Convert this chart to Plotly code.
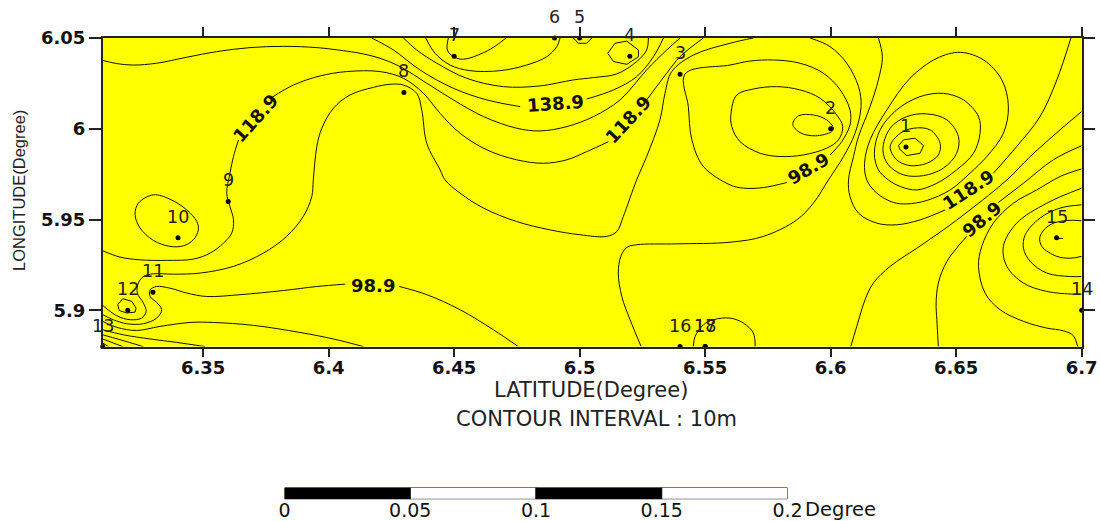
import plotly.graph_objects as go

# Contour lines: (latitude list, longitude list); None marks the gap for a label
c01_x = [6.31, 6.3169, 6.3249, 6.3355, 6.3461, 6.3528, 6.3581, 6.3614, 6.3621, 6.3607, 6.3594, 6.3607, 6.3621, 6.3641, None,
         6.3773, 6.3860, 6.3966, 6.4072, 6.4205, 6.4298, 6.4378, 6.4444, 6.4524, 6.4630, 6.4749, 6.4856, 6.4949, 6.5028, 6.5115, None,
         6.5267, 6.5347, 6.5400, 6.5493]
c01_y = [5.9328, 5.9293, 5.9278, 5.9275, 5.9282, 5.9315, 5.9370, 5.9425, 5.9498, 5.9572, 5.9645, 5.9755, 5.9847, 5.9939, None,
         6.0172, 6.0241, 6.0291, 6.0315, 6.0315, 6.0278, 6.0195, 6.0085, 5.9975, 5.9884, 5.9829, 5.9810, 5.9829, 5.9874, 5.9929, None,
         6.0159, 6.0306, 6.0397, 6.05]
c02_x = [6.31, 6.3156, 6.3222, 6.3315, 6.3435, 6.3554, 6.3687, 6.3820, 6.3953, 6.4059, 6.4125, 6.4205, 6.4285, 6.4391, 6.4497,
         6.4617, 6.4749, 6.4842, 6.4949, 6.5055, 6.5161, 6.5267, 6.5347, 6.5400]
c02_y = [6.0377, 6.0359, 6.0351, 6.0361, 6.0394, 6.0425, 6.0447, 6.0454, 6.0447, 6.0430, 6.0416, 6.0388, 6.0342, 6.0251, 6.0159,
         6.0067, 6.0003, 5.9988, 6.0012, 6.0067, 6.0159, 6.0324, 6.0434, 6.05]
c03_x = [6.4172, 6.4258, 6.4364, 6.4497, 6.4630, 6.4763, None, 6.5028, 6.5135, 6.5227, 6.5294, 6.5334]
c03_y = [6.05, 6.0434, 6.0324, 6.0223, 6.0159, 6.0122, None, 6.0164, 6.0214, 6.0287, 6.0397, 6.05]
c04_x = [6.4298, 6.4351, 6.4431, 6.4550, 6.4696, 6.4842, 6.4975, 6.5055, 6.5148, 6.5227, 6.5267, 6.5274]
c04_y = [6.05, 6.0434, 6.0361, 6.0278, 6.0232, 6.0236, 6.0269, 6.0282, 6.0302, 6.0370, 6.0434, 6.05]
c05_x = [6.4387, 6.4424, 6.4484, 6.4563, 6.4683, 6.4789, 6.4869, 6.4909, 6.4922]
c05_y = [6.05, 6.0416, 6.0351, 6.0320, 6.0320, 6.0351, 6.0397, 6.0452, 6.05]
c06_x = [6.4477, 6.4473, 6.4497, 6.4537, 6.4617, 6.4670, 6.4706]
c06_y = [6.05, 6.0434, 6.0397, 6.0383, 6.0419, 6.0461, 6.05]
c07_x = [6.5141, 6.5188, 6.5234, 6.5234, 6.5188, 6.5135, 6.5112, 6.5141]
c07_y = [6.0471, 6.0483, 6.0434, 6.0397, 6.0355, 6.0370, 6.0416, 6.0471]
c08_x = [6.4975, 6.4995, 6.5028, 6.5048]
c08_y = [6.05, 6.0471, 6.0471, 6.05]
c09_x = [6.31, 6.3156, 6.3209, 6.3255, 6.3273, 6.3262, 6.3238, 6.3242, 6.3262, 6.3302, 6.3382, 6.3488, 6.3621, 6.3740, 6.3833,
         6.3899, 6.3933, 6.3939, 6.3953, 6.3973, 6.4019, 6.4085, 6.4178, 6.4245, 6.4298, 6.4351, 6.4371, 6.4391, 6.4444, 6.4464,
         6.4524, 6.4617, 6.4749, 6.4882, 6.5002, 6.5108, 6.5148, 6.5174, 6.5227, 6.5267, 6.5320, 6.5340, 6.5367, 6.5453, 6.5599, 6.5692]
c09_y = [5.9027, 5.8970, 5.8948, 5.8957, 5.8994, 5.9040, 5.9095, 5.9150, 5.9186, 5.9201, 5.9199, 5.9205, 5.9242, 5.9315, 5.9407,
         5.9517, 5.9627, 5.9718, 5.9902, 6.0003, 6.0113, 6.0186, 6.0228, 6.0245, 6.0241, 6.0195, 6.0104, 5.9920, 5.9774, 5.9718,
         5.9645, 5.9563, 5.9489, 5.9443, 5.9416, 5.9407, 5.9434, 5.9517, 5.9718, 5.9847, 6.0049, 6.0195, 6.0315, 6.0406, 6.0471, 6.05]
c10_x = [6.5998, 6.6044, 6.6077, 6.6077, 6.6038, 6.5971, 6.5878, 6.5772, 6.5679, 6.5599, 6.5420, 6.5433, 6.5447, 6.5493, 6.5599,
         6.5652, 6.5732, 6.5825]
c10_y = [5.9856, 5.9929, 6.0021, 6.0104, 6.0214, 6.0306, 6.0361, 6.0379, 6.0373, 6.0351, 6.0302, 6.0122, 5.9939, 5.9792, 5.9691,
         5.9673, 5.9676, 5.9704]
c11_x = [6.5626, 6.5692, 6.5785, 6.5878, 6.5958, 6.6024, 6.6048, 6.6031, 6.5984, 6.5892, 6.5799, 6.5719, 6.5639, 6.5606, 6.5603, 6.5626]
c11_y = [6.0186, 6.0219, 6.0232, 6.0214, 6.0168, 6.0076, 6.0012, 5.9939, 5.9893, 5.9856, 5.9847, 5.9865, 5.9929, 6.0012, 6.0085, 6.0186]
c12_x = [6.5872, 6.5931, 6.5984, 6.6011, 6.6004, 6.5938, 6.5878, 6.5849, 6.5872]
c12_y = [6.0071, 6.0076, 6.0049, 6.0003, 5.9984, 5.9961, 5.9979, 6.0025, 6.0071]
c13_x = [6.5918, 6.5998, 6.6064, 6.6111, 6.6121, 6.6097, 6.6051, 6.5991, 6.5931, 6.5865, 6.5732, 6.5599, 6.5387, 6.5227, 6.5188,
         6.5164, 6.5154, 6.5168, 6.5201, 6.5245]
c13_y = [6.05, 6.0452, 6.0361, 6.0232, 6.0122, 5.9975, 5.9847, 5.9718, 5.9590, 5.9498, 5.9407, 5.9375, 5.9366, 5.9361, 5.9346,
         5.9297, 5.9205, 5.9076, 5.8948, 5.88]
c14_x = [6.6190, 6.6206, 6.6190, 6.6157, 6.6111, 6.6091, 6.6071, 6.6077, 6.6111, 6.6184, 6.6263, 6.6356, 6.6456, None,
         6.6648, 6.6741, 6.6834, 6.6901, 6.6957]
c14_y = [6.05, 6.0397, 6.0269, 6.0122, 5.9957, 5.9847, 5.9718, 5.9627, 5.9535, 5.9480, 5.9471, 5.9498, 5.9553, None,
         5.9755, 5.9902, 6.0067, 6.0269, 6.05]
c15_x = [6.6516, 6.6609, 6.6682, 6.6708, 6.6688, 6.6622, 6.6555, 6.6476, 6.6383, 6.6303, 6.6250, 6.6184, 6.6144, 6.6135, 6.6157,
         6.6224, 6.6316, 6.6423, 6.6516]
c15_y = [6.0421, 6.0379, 6.0269, 6.0122, 5.9975, 5.9847, 5.9755, 5.9663, 5.9605, 5.9586, 5.9594, 5.9645, 5.9718, 5.9810, 5.9939,
         6.0104, 6.0278, 6.0388, 6.0421]
c16_x = [6.6174, 6.6197, 6.6263, 6.6356, 6.6449, 6.6529, 6.6589, 6.6595, 6.6569, 6.6502, 6.6423, 6.6343, 6.6277, 6.6230, 6.6190, 6.6174]
c16_y = [5.9865, 5.9994, 6.0104, 6.0177, 6.0195, 6.0159, 6.0067, 5.9975, 5.9865, 5.9774, 5.9700, 5.9663, 5.9682, 5.9718, 5.9774, 5.9865]
c17_x = [6.6208, 6.6237, 6.6303, 6.6383, 6.6463, 6.6509, 6.6502, 6.6449, 6.6370, 6.6290, 6.6230, 6.6208]
c17_y = [5.9884, 6.0003, 6.0067, 6.0082, 6.0049, 5.9957, 5.9865, 5.9783, 5.9742, 5.9746, 5.9801, 5.9884]
c18_x = [6.6237, 6.6277, 6.6330, 6.6396, 6.6436, 6.6429, 6.6383, 6.6316, 6.6263, 6.6237]
c18_y = [5.9902, 5.9975, 6.0003, 5.9994, 5.9920, 5.9856, 5.9810, 5.9797, 5.9829, 5.9902]
c19_x = [6.6290, 6.6336, 6.6370, 6.6356, 6.6303, 6.6277, 6.6270, 6.6290]
c19_y = [5.9939, 5.9948, 5.9907, 5.9865, 5.9852, 5.9884, 5.9907, 5.9939]
c20_x = [6.6080, 6.6104, 6.6137, 6.6170, 6.6237, 6.6343, 6.6449, 6.6555, 6.6702, 6.6795, 6.6914, 6.70]
c20_y = [5.88, 5.8911, 5.9058, 5.9150, 5.9242, 5.9342, 5.9443, 5.9553, 5.9718, 5.9847, 5.9994, 6.0095]
c21_x = [6.6429, 6.6423, 6.6420, 6.6429, 6.6463, 6.6542, None, 6.6668, 6.6768, 6.6887, 6.70]
c21_y = [5.88, 5.8948, 5.9040, 5.9150, 5.9269, 5.9407, None, 5.9594, 5.9700, 5.9829, 5.9907]
c22_x = [6.70, 6.6914, 6.6821, 6.6728, 6.6648, 6.6602, 6.6589, 6.6615, 6.6675, 6.6768, 6.6861, 6.6927, 6.6967, 6.6984]
c22_y = [5.9779, 5.9737, 5.9663, 5.9590, 5.9480, 5.9352, 5.9242, 5.9095, 5.9003, 5.8939, 5.8902, 5.8887, 5.8860, 5.88]
c23_x = [6.70, 6.6861, 6.6741, 6.6688, 6.6702, 6.6768, 6.6861, 6.6967, 6.70]
c23_y = [5.9673, 5.9590, 5.9480, 5.9352, 5.9242, 5.9150, 5.9104, 5.9089, 5.9089]
c24_x = [6.70, 6.6914, 6.6834, 6.6775, 6.6768, 6.6795, 6.6861, 6.6954, 6.70]
c24_y = [5.9581, 5.9563, 5.9508, 5.9416, 5.9342, 5.9269, 5.9205, 5.9186, 5.9186]
c25_x = [6.70, 6.6941, 6.6874, 6.6834, 6.6841, 6.6901, 6.6954, 6.70]
c25_y = [5.9493, 5.9495, 5.9471, 5.9407, 5.9352, 5.9297, 5.9287, 5.9297]
c26_x = [6.5453, 6.5460, 6.5493, 6.5533, 6.5599, 6.5652, 6.5692, 6.5699]
c26_y = [5.88, 5.8856, 5.8920, 5.8948, 5.8957, 5.8930, 5.8875, 5.88]
c27_x = [6.3302, 6.3368, 6.3435, 6.3475, 6.3481, 6.3461, 6.3421, 6.3368, 6.3302, 6.3249, 6.3229, 6.3242, 6.3302]
c27_y = [5.9636, 5.9612, 5.9553, 5.9489, 5.9443, 5.9388, 5.9355, 5.9352, 5.9385, 5.9453, 5.9526, 5.9590, 5.9636]
c28_x = [6.31, 6.3142, 6.3196, 6.3262, 6.3315, 6.3335, 6.3315, 6.3289, 6.3289, 6.3315, 6.3368, 6.3435, 6.3514, 6.3647, 6.3820,
         6.3953, 6.4065, None, 6.4282, 6.4391, 6.4524, 6.4656, 6.4756]
c28_y = [5.8976, 5.8948, 5.8926, 5.8926, 5.8957, 5.9003, 5.9043, 5.9076, 5.9113, 5.9131, 5.9122, 5.9095, 5.9076, 5.9086, 5.9109,
         5.9131, 5.9144, None, 5.9131, 5.9086, 5.9003, 5.8893, 5.88]
c29_x = [6.3180, 6.3216, 6.3233, 6.3229, 6.3196, 6.3166, 6.3160, 6.3180]
c29_y = [5.9064, 5.9049, 5.9012, 5.8990, 5.8985, 5.8999, 5.9031, 5.9064]
c30_x = [6.31, 6.3156, 6.3235, 6.3328, 6.3448, 6.3541, 6.3700, 6.3886, 6.4019, 6.4139]
c30_y = [5.8939, 5.8906, 5.8889, 5.8911, 5.8933, 5.8933, 5.8917, 5.8878, 5.8842, 5.88]
c31_x = [6.31, 6.3182, 6.3289, 6.3395, 6.3508]
c31_y = [5.8893, 5.8865, 5.8842, 5.8823, 5.88]
c32_x = [6.31, 6.3169, 6.3262]
c32_y = [5.8865, 5.8838, 5.88]
c33_x = [6.31, 6.3142, 6.3180]
c33_y = [5.8842, 5.8820, 5.88]
c34_x = [6.31, 6.3123]
c34_y = [5.8820, 5.88]
c35_x = [6.6905, 6.6925]
c35_y = [5.9397, 5.9395]

smooth_lines = [(c01_x, c01_y), (c02_x, c02_y), (c03_x, c03_y), (c04_x, c04_y), (c05_x, c05_y), (c06_x, c06_y),
                (c09_x, c09_y), (c10_x, c10_y), (c11_x, c11_y), (c13_x, c13_y), (c14_x, c14_y), (c15_x, c15_y),
                (c16_x, c16_y), (c17_x, c17_y), (c18_x, c18_y), (c20_x, c20_y), (c21_x, c21_y), (c22_x, c22_y),
                (c23_x, c23_y), (c24_x, c24_y), (c25_x, c25_y), (c26_x, c26_y), (c27_x, c27_y), (c28_x, c28_y),
                (c30_x, c30_y), (c31_x, c31_y), (c32_x, c32_y), (c33_x, c33_y), (c34_x, c34_y), (c12_x, c12_y)]
polygon_lines = [(c07_x, c07_y), (c08_x, c08_y), (c19_x, c19_y), (c29_x, c29_y), (c35_x, c35_y)]

# Contour labels
label_text = ["118.9", "118.9", "138.9", "118.9", "98.9", "98.9", "98.9"]
label_x = [6.3707, 6.5194, 6.4902, 6.6551, 6.5911, 6.6602, 6.4177]
label_y = [6.0058, 6.0049, 6.0140, 5.9663, 5.9783, 5.9498, 5.9135]
label_angle = [-48, -47, -4, -33, -30, -40, 0]

# Survey points
station_id = ["1", "2", "3", "4", "5", "6", "7", "8", "9", "10", "11", "12", "13", "14", "15", "16", "17", "18"]
station_lat = [6.63, 6.60, 6.54, 6.52, 6.50, 6.49, 6.45, 6.43, 6.36, 6.34, 6.33, 6.32, 6.31, 6.70, 6.69, 6.54, 6.55, 6.55]
station_lon = [5.99, 6.00, 6.03, 6.04, 6.05, 6.05, 6.04, 6.02, 5.96, 5.94, 5.91, 5.90, 5.88, 5.90, 5.94, 5.88, 5.88, 5.88]

x_ticks = [6.35, 6.4, 6.45, 6.5, 6.55, 6.6, 6.65, 6.7]
x_tick_text = ["6.35", "6.4", "6.45", "6.5", "6.55", "6.6", "6.65", "6.7"]
y_ticks = [5.9, 5.95, 6.0, 6.05]
y_tick_text = ["5.9", "5.95", "6", "6.05"]

scale_start = [0, 0.05, 0.1, 0.15]
scale_width = [0.05, 0.05, 0.05, 0.05]
scale_fill = ["#000000", "#ffffff", "#000000", "#ffffff"]
scale_ticks = [0, 0.05, 0.1, 0.15, 0.2]
scale_tick_text = ["0", "0.05", "0.1", "0.15", "0.2"]

W, H = 1100, 521
BOLD = dict(family="DejaVu Sans", size=18, color="#111111", weight="bold")
LABEL_BOLD = dict(family="DejaVu Sans", size=18, color="#111111", weight="bold")
fig = go.Figure()

for xs, ys in smooth_lines:
    fig.add_trace(go.Scatter(x=xs, y=ys, mode="lines", line=dict(color="#111111", width=1, shape="spline", smoothing=1.0),
                             connectgaps=False, hoverinfo="skip", showlegend=False))
for xs, ys in polygon_lines:
    fig.add_trace(go.Scatter(x=xs, y=ys, mode="lines", line=dict(color="#111111", width=1),
                             connectgaps=False, hoverinfo="skip", showlegend=False))

fig.add_trace(go.Scatter(x=station_lat, y=station_lon, mode="markers", marker=dict(color="#000000", size=5),
                         cliponaxis=False, hoverinfo="skip", showlegend=False))

for t, x, y, a in zip(label_text, label_x, label_y, label_angle):
    fig.add_annotation(x=x, y=y, text=t, textangle=a, showarrow=False, font=LABEL_BOLD)

for s, x, y in zip(station_id, station_lat, station_lon):
    fig.add_annotation(x=x, y=y, text=s, showarrow=False, yshift=21,
                       font=dict(family="DejaVu Sans", size=17.5, color="#222222"))

fig.add_trace(go.Bar(x=scale_width, y=[0, 0, 0, 0], base=scale_start, orientation="h", width=1,
                     marker=dict(color=scale_fill, line=dict(color="#000000", width=1)),
                     xaxis="x2", yaxis="y2", hoverinfo="skip", showlegend=False))

axis_line = dict(showline=True, linecolor="#222222", linewidth=1.5, mirror="ticks", ticks="outside",
                 tickcolor="#222222", tickwidth=1.5, showgrid=False, zeroline=False, tickfont=BOLD)
fig.update_layout(
    width=W, height=H, autosize=False, margin=dict(l=0, r=0, t=0, b=0, pad=0, autoexpand=False),
    paper_bgcolor="#ffffff", plot_bgcolor="#ffff00", barmode="overlay",
    xaxis=dict(domain=[102.7 / W, 1081.7 / W], range=[6.31, 6.70], tickvals=x_ticks, ticktext=x_tick_text, ticklen=9,
               ticklabelstandoff=-5, **axis_line),
    yaxis=dict(domain=[1 - 346.6 / H, 1 - 38 / H], range=[5.88, 6.05], tickvals=y_ticks, ticktext=y_tick_text, ticklen=12, **axis_line),
    xaxis2=dict(domain=[284.5 / W, 787.5 / W], range=[0, 0.2], anchor="y2", tickvals=scale_ticks, ticktext=scale_tick_text,
                ticks="", showline=False, showgrid=False, zeroline=False, ticklabelstandoff=-2,
                tickfont=dict(family="DejaVu Sans", size=19, color="#111111")),
    yaxis2=dict(domain=[1 - 499.3 / H, 1 - 487.5 / H], range=[-0.5, 0.5], anchor="x2", showticklabels=False, ticks="",
                showline=False, showgrid=False, zeroline=False),
)

text_font = dict(family="DejaVu Sans", size=21, color="#222222")
fig.add_annotation(xref="paper", yref="paper", x=591 / W, y=1 - 390 / H, text="LATITUDE(Degree)", showarrow=False, font=text_font,
                   xanchor="center", yanchor="middle")
fig.add_annotation(xref="paper", yref="paper", x=596 / W, y=1 - 419 / H, text="CONTOUR INTERVAL : 10m", showarrow=False, font=text_font,
                   xanchor="center", yanchor="middle")
fig.add_annotation(xref="paper", yref="paper", x=19 / W, y=1 - 191 / H, text="LONGITUDE(Degree)", textangle=-90, showarrow=False,
                   font=dict(family="Liberation Sans", size=16.5, color="#222222"), xanchor="center", yanchor="middle")
fig.add_annotation(xref="x2", yref="paper", x=0.2, y=1 - 509 / H, xshift=15, text="Degree", xanchor="left", yanchor="middle", showarrow=False,
                   font=dict(family="DejaVu Sans", size=19.5, color="#111111"))

fig.write_html("out.html", config=dict(displayModeBar=False),
               post_script="document.body.style.margin='0';document.documentElement.style.overflow='hidden';")
